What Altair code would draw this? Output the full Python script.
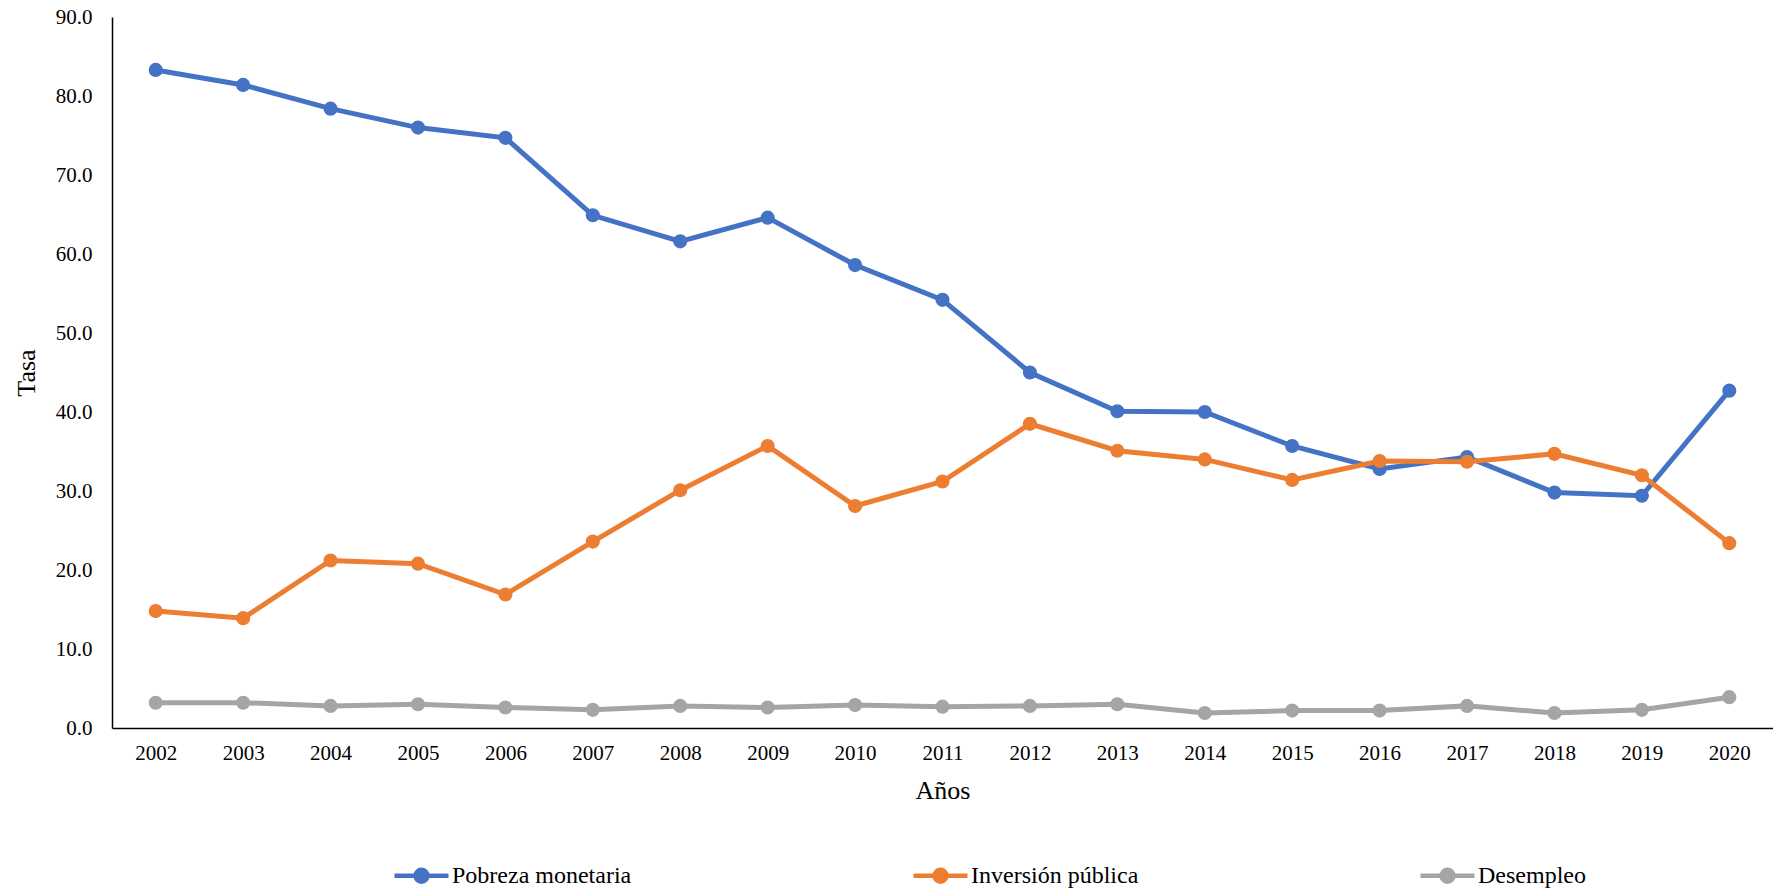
import altair as alt
import pandas as pd

# Annual series, 2002-2020
years = [str(y) for y in range(2002, 2021)]
pobreza = [83.3, 81.4, 78.4, 76.0, 74.7, 64.9, 61.6, 64.6, 58.6, 54.2,
           45.0, 40.1, 40.0, 35.7, 32.8, 34.3, 29.8, 29.4, 42.7]
inversion = [14.8, 13.9, 21.2, 20.8, 16.9, 23.6, 30.1, 35.7, 28.1, 31.2,
             38.5, 35.1, 34.0, 31.4, 33.8, 33.7, 34.7, 32.0, 23.4]
desempleo = [3.2, 3.2, 2.8, 3.0, 2.6, 2.3, 2.8, 2.6, 2.9, 2.7,
             2.8, 3.0, 1.9, 2.2, 2.2, 2.8, 1.9, 2.3, 3.9]

series_names = ["Pobreza monetaria", "Inversión pública", "Desempleo"]
series_colors = ["#4472C4", "#ED7D31", "#A5A5A5"]

df = pd.DataFrame({
    "Año": years * 3,
    "Serie": [series_names[0]] * 19 + [series_names[1]] * 19 + [series_names[2]] * 19,
    "Tasa": pobreza + inversion + desempleo,
})

FONT = "Liberation Serif"

# legend glyph: a short line with a filled dot in the middle
legend_glyph = (
    "M-1,0L1,0 "
    "M-0.22,0A0.22,0.22 0 1 0 0.22,0A0.22,0.22 0 1 0 -0.22,0 "
    "M-0.1,0A0.1,0.1 0 1 0 0.1,0A0.1,0.1 0 1 0 -0.1,0 "
    "M-0.02,0A0.02,0.02 0 1 0 0.02,0A0.02,0.02 0 1 0 -0.02,0"
)

x_enc = alt.X(
    "Año:O",
    sort=years,
    scale=alt.Scale(type="point", padding=0.5),
    axis=alt.Axis(
        title="Años", labelAngle=0, ticks=False, tickSize=0, grid=False,
        labelPadding=14, titlePadding=14,
    ),
)
y_enc = alt.Y(
    "Tasa:Q",
    scale=alt.Scale(domain=[0, 90], nice=False),
    axis=alt.Axis(
        title="Tasa", values=list(range(0, 91, 10)), format=".1f",
        ticks=False, tickSize=0, grid=False, labelPadding=20, titlePadding=16,
    ),
)
color_scale = alt.Scale(domain=series_names, range=series_colors)

lines = alt.Chart(df).mark_line(strokeWidth=5).encode(
    x=x_enc,
    y=y_enc,
    color=alt.Color(
        "Serie:N",
        scale=color_scale,
        sort=series_names,
        legend=alt.Legend(
            title=None,
            orient="none",
            legendX=280,
            legendY=829,
            direction="horizontal",
            columnPadding=272,
            symbolType=legend_glyph,
            symbolSize=2916,
            symbolStrokeWidth=4.5,
            labelFont=FONT,
            labelFontSize=24,
            labelColor="#000000",
            labelLimit=0,
            labelOffset=1,
        ),
    ),
)

points = alt.Chart(df).mark_circle(size=200, opacity=1).encode(
    x=x_enc,
    y=y_enc,
    color=alt.Color("Serie:N", scale=color_scale, legend=None),
)

chart = (
    alt.layer(lines, points)
    .properties(
        width=1661,
        height=711,
        autosize=alt.AutoSizeParams(type="none"),
        padding={"left": 112, "top": 17, "right": 0, "bottom": 161},
    )
    .configure_view(stroke=None)
    .configure_axis(
        domainColor="#000000",
        domainWidth=1.5,
        labelFont=FONT,
        labelFontSize=21,
        labelColor="#000000",
        titleFont=FONT,
        titleFontSize=26,
        titleFontWeight="normal",
        titleColor="#000000",
    )
)

chart.save("out.html", embed_options={"renderer": "svg", "actions": False})
